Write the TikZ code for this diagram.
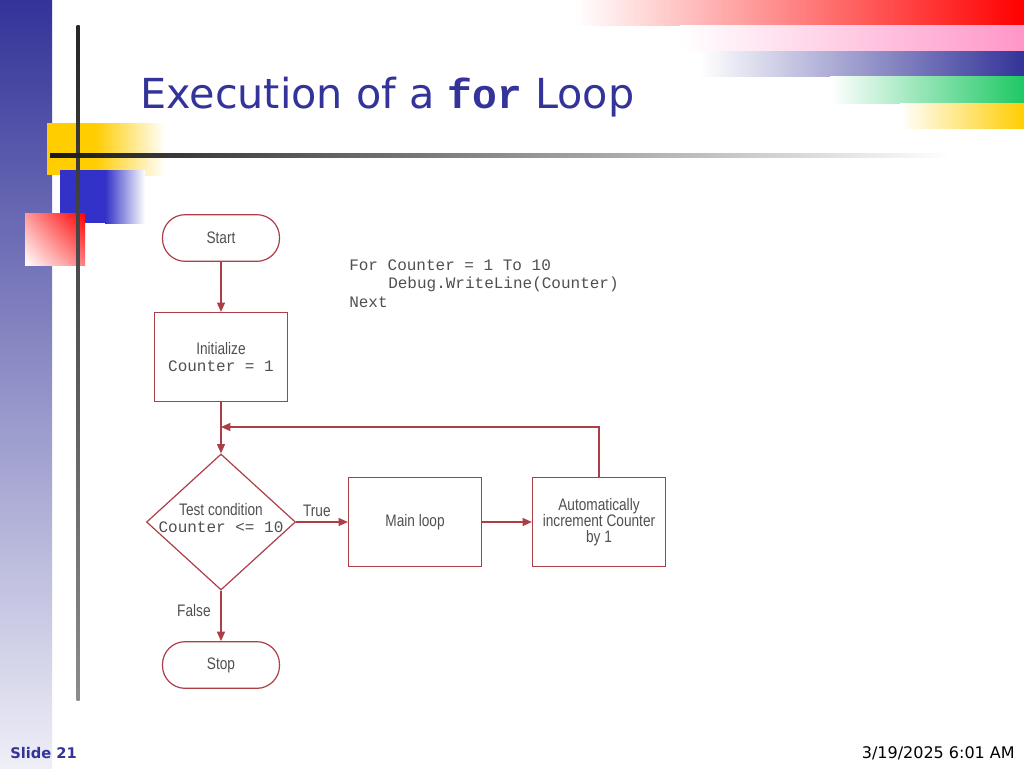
\documentclass[tikz,border=0pt]{standalone}
\usepackage{fontspec}
\setmainfont{DejaVu Sans}
\newfontfamily\fcf{Liberation Sans}[FakeStretch=0.82]
\newfontfamily\monof{Liberation Mono}
\usetikzlibrary{shapes.geometric,arrows.meta,shadings}
\definecolor{tblue}{RGB}{51,51,153}
\definecolor{edge}{RGB}{172,62,72}
\definecolor{ftxt}{RGB}{80,80,80}
\definecolor{dpink}{RGB}{255,150,200}
\definecolor{dgreen}{RGB}{30,200,100}
\definecolor{dyellow}{RGB}{255,205,0}
\definecolor{dblue}{RGB}{50,50,200}
\tikzset{
  px/.style={x=0.75pt,y=-0.75pt},
  ffont/.style={font=\fcf\fontsize{12.5}{14}\selectfont,text=ftxt},
  fbox/.style={draw=edge,line width=0.9pt,minimum width=99.75pt,minimum height=66.75pt,inner sep=0pt,ffont,align=center},
  term/.style={draw=edge,line width=0.9pt,rounded corners=17pt,minimum width=87.75pt,minimum height=35pt,inner sep=0pt,ffont},
  dec/.style={draw=edge,line width=0.9pt,diamond,minimum width=111.75pt,minimum height=102pt,inner sep=0pt},
  conn/.style={draw=edge,line width=0.9pt,-{Triangle[length=7pt,width=6pt]}},
  lbl/.style={ffont},
  code/.style={font=\monof\fontsize{12}{14}\selectfont,text=ftxt,anchor=west,inner sep=0pt}
}
\newcommand{\mfnt}{\monof\fontsize{12}{13}\selectfont}
\begin{document}
\begin{tikzpicture}[px]
\useasboundingbox (0,0) rectangle (1024,768);
\fill[white] (0,0) rectangle (1024,768);
% decorations
\shade[top color=tblue,bottom color=tblue!8] (0,0) rectangle (52,768);
\shade[left color=white,right color=red] (575,0) rectangle (1024,25);
\shade[left color=white,right color=dpink] (680,25) rectangle (1024,51);
\shade[left color=white,right color=tblue] (700,51) rectangle (1024,76);
\shade[left color=white,right color=dgreen] (830,76) rectangle (1024,103);
\shade[left color=white,right color=dyellow] (900,103) rectangle (1024,128);
\fill[dyellow] (47,123) rectangle (95,175);
\shade[left color=dyellow,right color=white] (95,123) rectangle (165,175);
\fill[dblue] (60,170) rectangle (105,223);
\shade[left color=dblue,right color=white] (105,170) rectangle (145,223);
\shade[lower left=white,upper right=red,lower right=red!50,upper left=red!40] (25,213) rectangle (85,265);
\shade[top color=black!85,bottom color=black!45] (76.5,25) rectangle (79.5,700);
\shade[left color=black!90,right color=white] (50,153) rectangle (950,157);
% title and footer
\node[anchor=base west,inner sep=0pt,text=tblue,font=\fontsize{31}{34}\selectfont] (title) at (140,108) {Execution of a \textbf{\monof for} Loop};
\node[anchor=base west,inner sep=0pt,text=tblue,font=\bfseries\fontsize{11}{13}\selectfont] (slide) at (10,758) {Slide 21};
\node[anchor=base east,inner sep=0pt,font=\fontsize{12}{14}\selectfont] (date) at (1015,758) {3/19/2025 6:01 AM};
% code
\node[code] (c1) at (349,265) {For Counter = 1 To 10};
\node[code] (c2) at (388,284) {Debug.WriteLine(Counter)};
\node[code] (c3) at (349,302) {Next};
% flowchart
\node[term] (start) at (221,238) {Start};
\node[fbox] (init) at (221,357) {Initialize\\[-1pt]{\mfnt Counter = 1}};
\node[dec] (test) at (221,522) {};
\node[ffont,align=center,inner sep=0pt] (testtxt) at (221,518) {Test condition\\[-1pt]{\mfnt Counter <= 10}};
\node[fbox] (main) at (415,522) {Main loop};
\node[fbox] (inc) at (599,522) {Automatically\\[-2pt]increment Counter\\[-2pt]by 1};
\node[term] (stop) at (221,665) {Stop};
\coordinate (j) at (221,427);
\draw[conn] (start) -- (init);
\draw[draw=edge,line width=0.9pt] (init) -- (j);
\draw[conn] (j) -- (test);
\draw[conn] (test) -- node[lbl,above,pos=0.4] {True} (main);
\draw[conn] (main) -- (inc);
\draw[conn] (test) -- node[lbl,left,pos=0.4,xshift=-4pt] {False} (stop);
\draw[conn] (inc.north) |- (j);
\end{tikzpicture}
\end{document}
